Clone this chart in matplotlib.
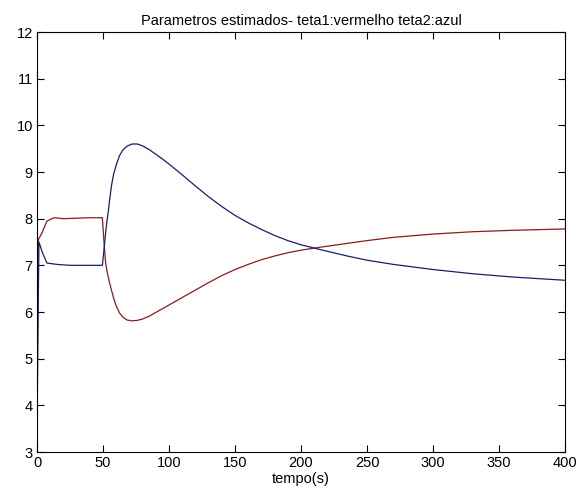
import matplotlib
matplotlib.use("Agg")
import matplotlib.pyplot as plt

# estimated parameters over time
t_teta1 = [0, 1, 3.5, 7.5, 13, 20, 30, 40, 49.5, 51, 52, 53, 54, 55, 56.5, 58, 60, 62.5,
           65, 68, 72, 76, 80, 85, 90, 95, 100, 110, 120, 130, 140, 150, 160, 170, 180,
           190, 200, 210, 220, 235, 250, 270, 300, 330, 360, 400]
teta1 = [3, 7.55, 7.68, 7.95, 8.02, 8.0, 8.01, 8.02, 8.02, 7.4, 7.05, 6.88, 6.75, 6.62,
         6.46, 6.3, 6.13, 5.98, 5.89, 5.83, 5.81, 5.82, 5.85, 5.91, 5.99, 6.07, 6.15,
         6.31, 6.47, 6.63, 6.78, 6.91, 7.02, 7.12, 7.2, 7.27, 7.325, 7.37, 7.41, 7.47,
         7.53, 7.6, 7.67, 7.72, 7.75, 7.78]

t_teta2 = [0, 0.5, 1.5, 4, 7.5, 15, 25, 35, 45, 49.5, 51, 52, 53, 54, 55, 56.5, 58, 60,
           62.5, 65, 68, 72, 76, 80, 85, 90, 95, 100, 110, 120, 130, 140, 150, 160, 170,
           180, 190, 200, 210, 220, 235, 250, 270, 300, 330, 360, 400]
teta2 = [3, 5.25, 7.5, 7.28, 7.05, 7.02, 7.0, 7.0, 7.0, 7.0, 7.4, 7.7, 7.95, 8.15, 8.4,
         8.72, 8.95, 9.15, 9.35, 9.47, 9.55, 9.6, 9.6, 9.56, 9.48, 9.38, 9.28, 9.17,
         8.94, 8.7, 8.47, 8.26, 8.07, 7.91, 7.77, 7.64, 7.53, 7.44, 7.37, 7.3, 7.2,
         7.11, 7.02, 6.91, 6.82, 6.75, 6.68]

xticks = [0, 50, 100, 150, 200, 250, 300, 350, 400]
yticks = [3, 4, 5, 6, 7, 8, 9, 10, 11, 12]

plt.rcParams["font.family"] = ["Liberation Sans", "DejaVu Sans"]
plt.rcParams["font.size"] = 10.5

fig = plt.figure(figsize=(5.79, 4.97), dpi=100)
ax = fig.add_axes([37 / 579, 1 - 452 / 497, (565 - 37) / 579, (452 - 32) / 497])

ax.plot(t_teta1, teta1, color="#8b1c1c", linewidth=0.9)
ax.plot(t_teta2, teta2, color="#1c1c6b", linewidth=0.9)

ax.set_xlim(0, 400)
ax.set_ylim(3, 12)
ax.set_xticks(xticks)
ax.set_yticks(yticks)
ax.tick_params(direction="in", length=5, width=0.8, top=True, right=True, pad=3)
for s in ax.spines.values():
    s.set_linewidth(0.8)

ax.set_title("Parametros estimados- teta1:vermelho teta2:azul", fontsize=10.5, pad=5)
ax.set_xlabel("tempo(s)", labelpad=1)

fig.savefig("out.png", dpi=100)
